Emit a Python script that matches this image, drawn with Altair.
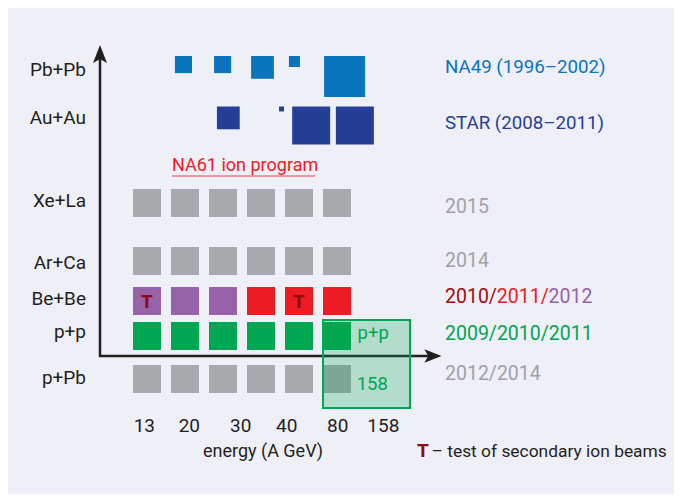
import altair as alt
import pandas as pd

# ---------------- data ----------------
energy_labels = ["13", "20", "30", "40", "80", "158"]
na61_systems = ["Xe+La", "Ar+Ca", "Be+Be", "p+p", "p+Pb"]
xe_la_status = ["2015", "2015", "2015", "2015", "2015", "2015"]
ar_ca_status = ["2014", "2014", "2014", "2014", "2014", "2014"]
be_be_status = ["2012", "2012", "2012", "2011", "2011", "2011"]
p_p_status = ["2009/2010/2011"] * 6
p_pb_status = ["2012/2014"] * 6
be_be_test_columns = [0, 4]          # squares marked "T"

# NA49 Pb+Pb and STAR Au+Au squares: energy position (column units) and relative size
na49_energy_pos = [0.96, 1.99, 3.04, 3.88, 5.20]
na49_size = [0.45, 0.45, 0.60, 0.29, 1.08]
star_energy_pos = [2.14, 3.54, 4.32, 5.47]
star_size = [0.60, 0.13, 1.00, 1.00]

row_labels = ["Pb+Pb", "Au+Au", "Xe+La", "Ar+Ca", "Be+Be", "p+p", "p+Pb"]
experiment_labels = ["NA49 (1996–2002)", "STAR (2008–2011)"]
experiment_groups = ["NA49", "STAR"]
year_labels = ["2015", "2014", "2010/", "2011/", "2012", "2009/2010/2011", "2012/2014"]
year_groups = ["grey", "grey", "2010", "2011", "2012", "green", "grey"]

# ---------------- layout ----------------
W, H = 666, 486
CELL = 38.0
X0 = 147 - 8
Y0 = 356 - 8
FONT = "Roboto"


def U(px):
    return (px - 8 - X0) / CELL


def V(py):
    return (Y0 - (py - 8)) / CELL


xs = alt.Scale(domain=[U(8), U(8 + W)], nice=False, zero=False)
ys = alt.Scale(domain=[V(8 + H), V(8)], nice=False, zero=False)

cdomain = ["2015", "2014", "2012", "2011", "2010", "2009/2010/2011", "2012/2014",
           "NA49", "STAR", "grey", "green", "label", "T"]
crange = ["#A7A9AC", "#A7A9AC", "#9662A8", "#ED1C24", "#9E0B0F", "#00A651", "#A7A9AC",
          "#0A74BC", "#263F96", "#A0A2A5", "#00A651", "#231F20", "#8E0A10"]
cs = alt.Scale(domain=cdomain, range=crange)

row_v = {"Xe+La": V(203), "Ar+Ca": V(261), "Be+Be": V(301), "p+p": V(336), "p+Pb": V(379)}
HALF = 14 / CELL

status = {"Xe+La": xe_la_status, "Ar+Ca": ar_ca_status, "Be+Be": be_be_status,
          "p+p": p_p_status, "p+Pb": p_pb_status}
rows = []
for s in na61_systems:
    for i, st in enumerate(status[s]):
        rows.append({"x": i - HALF, "x2": i + HALF, "y": row_v[s] - HALF,
                     "y2": row_v[s] + HALF, "grp": st})
na61_df = pd.DataFrame(rows)

top_rows = []
pb_top = V(56)
for p, sz in zip(na49_energy_pos, na49_size):
    top_rows.append({"x": p - sz / 2, "x2": p + sz / 2, "y": pb_top - sz, "y2": pb_top, "grp": "NA49"})
au_top = V(106.5)
for p, sz in zip(star_energy_pos, star_size):
    top_rows.append({"x": p - sz / 2, "x2": p + sz / 2, "y": au_top - sz, "y2": au_top, "grp": "STAR"})
top_df = pd.DataFrame(top_rows)


def rects(df):
    return alt.Chart(df).mark_rect().encode(
        x=alt.X("x:Q", scale=xs, axis=None), x2="x2:Q",
        y=alt.Y("y:Q", scale=ys, axis=None), y2="y2:Q",
        color=alt.Color("grp:N", scale=cs, legend=None))


def texts(df, size, align="left", weight="normal"):
    return alt.Chart(df).mark_text(align=align, baseline="alphabetic", fontSize=size,
                                   font=FONT, fontWeight=weight).encode(
        x=alt.X("x:Q", scale=xs, axis=None),
        y=alt.Y("y:Q", scale=ys, axis=None),
        text="text:N",
        color=alt.Color("grp:N", scale=cs, legend=None))


# axes
axis_df = pd.DataFrame([
    {"x": U(100), "x2": U(100), "y": V(357), "y2": V(54)},
    {"x": U(99), "x2": U(432), "y": V(356), "y2": V(356)},
])
axis_lines = alt.Chart(axis_df).mark_rule(color="#231F20", strokeWidth=2.5).encode(
    x=alt.X("x:Q", scale=xs, axis=None), x2="x2:Q",
    y=alt.Y("y:Q", scale=ys, axis=None), y2="y2:Q")
up_head = alt.Chart(pd.DataFrame([{"x": U(100), "y": V(55)}])).mark_point(
    shape="M0,-1 L0.7,0.8 L0,0.4 L-0.7,0.8 Z", size=400, filled=True, opacity=1,
    color="#231F20").encode(x=alt.X("x:Q", scale=xs, axis=None), y=alt.Y("y:Q", scale=ys, axis=None))
right_head = alt.Chart(pd.DataFrame([{"x": U(432), "y": V(356)}])).mark_point(
    shape="M1,0 L-0.8,0.7 L-0.4,0 L-0.8,-0.7 Z", size=361, filled=True, opacity=1,
    color="#231F20").encode(x=alt.X("x:Q", scale=xs, axis=None), y=alt.Y("y:Q", scale=ys, axis=None))

# 158 GeV p+p box
box_df = pd.DataFrame([{"x": U(323), "x2": U(410), "y": V(408), "y2": V(320)}])
box = alt.Chart(box_df).mark_rect(fill="#00A651", fillOpacity=0.25, stroke="#00A651",
                                  strokeWidth=2).encode(
    x=alt.X("x:Q", scale=xs, axis=None), x2="x2:Q",
    y=alt.Y("y:Q", scale=ys, axis=None), y2="y2:Q")

# text tables
row_label_df = pd.DataFrame({"text": row_labels, "x": U(86),
                             "y": [V(b) for b in [76, 124, 206.5, 269, 305, 338, 384]],
                             "grp": "label"})
exp_df = pd.DataFrame({"text": experiment_labels, "x": U(445),
                       "y": [V(73), V(129)], "grp": experiment_groups})
year_df = pd.DataFrame({"text": year_labels,
                        "x": [U(v) for v in [445, 445, 445, 496.8, 548.6, 445, 445]],
                        "y": [V(b) for b in [213, 267, 303, 303, 303, 340, 380]],
                        "grp": year_groups})
tick_df = pd.DataFrame({"text": energy_labels,
                        "x": [U(v) for v in [144.3, 189.3, 240.7, 286.7, 337.7, 383.3]],
                        "y": V(431.5), "grp": "label"})
title_df = pd.DataFrame({"text": ["energy (A GeV)"], "x": [U(263)], "y": [V(457)], "grp": ["label"]})
foot_df = pd.DataFrame({"text": ["– test of secondary ion beams"], "x": [U(431.5)], "y": [V(457)],
                        "grp": ["label"]})
foot_t_df = pd.DataFrame({"text": ["T"], "x": [U(417)], "y": [V(457)], "grp": ["T"]})
box_text_df = pd.DataFrame({"text": ["p+p", "158"], "x": [U(357.5), U(356.7)],
                            "y": [V(339), V(390)], "grp": ["green", "green"]})
na61_title_df = pd.DataFrame({"text": ["NA61 ion program"], "x": [U(172)], "y": [V(171)],
                              "grp": ["2011"]})
t_marks_df = pd.DataFrame({"text": ["T"] * len(be_be_test_columns),
                           "x": [float(c) for c in be_be_test_columns],
                           "y": row_v["Be+Be"] - 7 / CELL, "grp": "T"})

underline = alt.Chart(pd.DataFrame([{"x": U(172), "x2": U(315), "y": V(176)}])).mark_rule(
    color="#F37A80", strokeWidth=1.3).encode(
    x=alt.X("x:Q", scale=xs, axis=None), x2="x2:Q", y=alt.Y("y:Q", scale=ys, axis=None))

chart = alt.layer(
    rects(na61_df), rects(top_df), axis_lines, up_head, right_head, box,
    texts(row_label_df, 19, align="right"),
    texts(exp_df, 18.7),
    texts(year_df, 19.5),
    texts(tick_df, 19, align="center"),
    texts(title_df, 18, align="center"),
    texts(foot_df, 17.4),
    texts(foot_t_df, 19, weight="bold"),
    texts(box_text_df, 18.5),
    texts(na61_title_df, 18),
    texts(t_marks_df, 19, align="center", weight="bold"),
    underline,
).properties(
    width=W, height=H, padding=0, autosize=alt.AutoSizeParams(type="none"),
    background="#EEEFF7",
).configure_view(stroke=None)

chart.save("out.html", embed_options={"renderer": "svg", "actions": False})
